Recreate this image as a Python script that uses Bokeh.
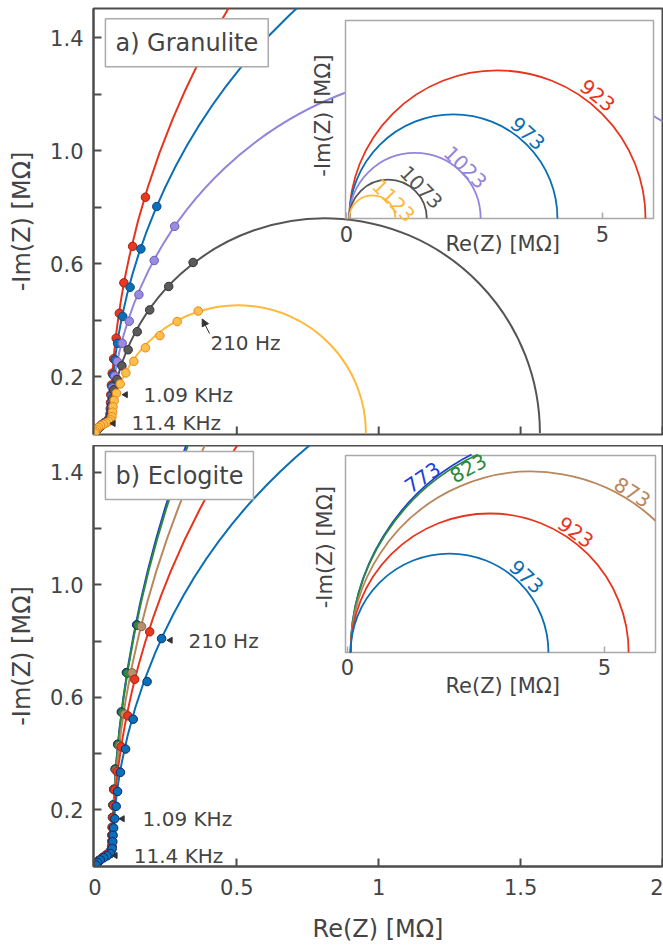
import numpy as np
from bokeh.plotting import figure
from bokeh.layouts import column
from bokeh.models import (Range1d, FixedTicker, PrintfTickFormatter,
                          CustomJSTickFormatter, Label, Arrow, NormalHead)
from bokeh.core.properties import value
from bokeh.embed import file_html
from bokeh.resources import INLINE

# ------------------------------------------------------------------ data
x_ticks = [0, 0.5, 1, 1.5, 2]
x_tick_labels = ["0", "0.5", "1", "1.5", "2"]
y_ticks = [0.2, 0.6, 1.0, 1.4]
y_minor_ticks = [0.4, 0.8, 1.2]
inset_ticks = [0, 5]
inset_tick_labels = ["0", "5"]
freq_labels = ["210 Hz", "1.09 KHz", "11.4 KHz"]

# ---- a) Granulite (temperatures in K)
temps_a = ["923", "973", "1023", "1073", "1123"]
arc_start_a = [0.054, 0.054, 0.054, 0.054, 0.054]      # MΩ
arc_radius_a = [2.893, 2.033, 1.283, 0.757, 0.4505]    # MΩ

re_a_923 = [0.178, 0.133, 0.102, 0.086, 0.075, 0.066, 0.061, 0.058, 0.056, 0.055, 0.054, 0.053, 0.050, 0.043, 0.033, 0.022, 0.012, 0.005, 0.001]
im_a_923 = [0.835, 0.661, 0.532, 0.424, 0.336, 0.263, 0.212, 0.170, 0.136, 0.108, 0.086, 0.068, 0.052, 0.044, 0.037, 0.029, 0.020, 0.011, 0.003]
re_a_973 = [0.218, 0.162, 0.124, 0.098, 0.080, 0.071, 0.064, 0.060, 0.058, 0.057, 0.056, 0.055, 0.051, 0.044, 0.034, 0.023, 0.013, 0.005, 0.001]
im_a_973 = [0.802, 0.652, 0.516, 0.413, 0.318, 0.259, 0.206, 0.165, 0.132, 0.105, 0.084, 0.066, 0.051, 0.043, 0.036, 0.028, 0.019, 0.010, 0.002]
re_a_1023 = [0.281, 0.209, 0.155, 0.121, 0.096, 0.079, 0.070, 0.062, 0.059, 0.057, 0.056, 0.055, 0.051, 0.043, 0.033, 0.022, 0.012, 0.005, 0.001]
im_a_1023 = [0.732, 0.611, 0.490, 0.396, 0.318, 0.253, 0.202, 0.160, 0.128, 0.102, 0.081, 0.064, 0.049, 0.041, 0.035, 0.027, 0.018, 0.009, 0.002]
re_a_1073 = [0.346, 0.260, 0.193, 0.149, 0.117, 0.095, 0.078, 0.066, 0.062, 0.059, 0.057, 0.056, 0.052, 0.044, 0.034, 0.023, 0.013, 0.005, 0.001]
im_a_1073 = [0.604, 0.519, 0.436, 0.359, 0.295, 0.238, 0.190, 0.153, 0.124, 0.099, 0.079, 0.062, 0.048, 0.040, 0.034, 0.026, 0.017, 0.009, 0.002]
re_a_1123 = [0.364, 0.290, 0.229, 0.178, 0.137, 0.109, 0.089, 0.076, 0.068, 0.064, 0.062, 0.060, 0.056, 0.049, 0.040, 0.030, 0.020, 0.012, 0.006, 0.002, 0.000]
im_a_1123 = [0.432, 0.395, 0.345, 0.302, 0.254, 0.213, 0.174, 0.141, 0.115, 0.093, 0.074, 0.058, 0.047, 0.041, 0.036, 0.031, 0.026, 0.020, 0.013, 0.006, 0.000]

# ---- b) Eclogite
temps_b = ["773", "823", "873", "923", "973"]
arc_start_b = [0.06, 0.06, 0.06, 0.06, 0.06]
arc_radius_b = [4.33, 4.235, 3.52, 2.705, 1.925]

re_b_773 = [0.147, 0.111, 0.093, 0.080, 0.071, 0.066, 0.063, 0.062, 0.061, 0.060, 0.060, 0.059, 0.056, 0.048, 0.037, 0.025, 0.014, 0.006, 0.001]
im_b_773 = [0.858, 0.688, 0.548, 0.433, 0.345, 0.273, 0.217, 0.173, 0.138, 0.110, 0.088, 0.070, 0.055, 0.046, 0.038, 0.029, 0.020, 0.011, 0.002]
re_b_823 = [0.151, 0.114, 0.096, 0.082, 0.072, 0.067, 0.064, 0.062, 0.061, 0.060, 0.060, 0.059, 0.056, 0.048, 0.037, 0.025, 0.014, 0.006, 0.001]
im_b_823 = [0.856, 0.686, 0.546, 0.431, 0.343, 0.272, 0.216, 0.172, 0.137, 0.109, 0.087, 0.069, 0.054, 0.045, 0.037, 0.028, 0.019, 0.010, 0.002]
re_b_873 = [0.164, 0.131, 0.105, 0.088, 0.075, 0.069, 0.065, 0.063, 0.062, 0.061, 0.060, 0.059, 0.056, 0.048, 0.037, 0.025, 0.014, 0.006, 0.001]
im_b_873 = [0.852, 0.687, 0.540, 0.428, 0.339, 0.270, 0.214, 0.171, 0.136, 0.108, 0.086, 0.068, 0.053, 0.044, 0.036, 0.028, 0.019, 0.010, 0.002]
re_b_923 = [0.193, 0.140, 0.116, 0.093, 0.078, 0.070, 0.066, 0.064, 0.063, 0.062, 0.061, 0.060, 0.057, 0.049, 0.038, 0.026, 0.015, 0.006, 0.001]
im_b_923 = [0.833, 0.664, 0.534, 0.424, 0.336, 0.271, 0.215, 0.172, 0.137, 0.109, 0.087, 0.069, 0.054, 0.045, 0.037, 0.028, 0.019, 0.010, 0.002]
re_b_973 = [0.235, 0.184, 0.135, 0.108, 0.090, 0.080, 0.075, 0.070, 0.066, 0.064, 0.063, 0.061, 0.055, 0.043, 0.031, 0.019, 0.010, 0.004]
im_b_973 = [0.809, 0.656, 0.522, 0.416, 0.333, 0.265, 0.212, 0.168, 0.135, 0.109, 0.086, 0.062, 0.044, 0.036, 0.029, 0.021, 0.012, 0.003]

# ------------------------------------------------------------------ styles
FONT = "DejaVu Sans"
TXT = "#444444"
AX = "#4d4d4d"
INSET_EDGE = "#a9a9a9"

col_a_line = ["#e8341c", "#0a6eb5", "#9384dc", "#555555", "#ffb93a"]
col_a_fill = ["#e8381e", "#0b6fb8", "#9a8ae0", "#5a5a5a", "#ffbf4a"]
col_a_edge = ["#a8200e", "#064a82", "#6a5ab8", "#303030", "#e8861a"]
col_b_line = ["#1f3fd8", "#2a8a3c", "#b8875e", "#e8341c", "#0a6eb5"]
col_b_fill = ["#2040d0", "#2e8b3e", "#b89070", "#e8381e", "#0b6fb8"]
col_b_edge = ["#102080", "#1a5a28", "#8a6040", "#a8200e", "#0a2a70"]

FIG_W = 663
BORDER_L, BORDER_R = 93, 1
FRAME_LEFT = BORDER_L                   # page px (Bokeh page has no margin)
FRAME_W = FIG_W - BORDER_L - BORDER_R
PX_PER_UNIT_Y = 282.5
Y_JOIN = 0.05                           # where the big arc meets the HF shoulder


def base_figure(height, top_border, bottom_border, yr):
    p = figure(width=FIG_W, height=height, x_range=Range1d(-0.005, 2.0),
               y_range=Range1d(*yr), min_border_left=BORDER_L,
               min_border_right=BORDER_R, min_border_top=top_border,
               min_border_bottom=bottom_border,
               output_backend="svg", toolbar_location=None)
    p.xgrid.visible = False
    p.ygrid.visible = False
    p.outline_line_color = AX
    p.outline_line_width = 2
    p.outline_line_alpha = 1
    for ax in (p.xaxis[0], p.yaxis[0]):
        ax.axis_line_color = AX
        ax.axis_line_width = 2
        ax.major_tick_line_color = AX
        ax.major_tick_line_width = 2
        ax.major_tick_in = 8
        ax.major_tick_out = 0
        ax.minor_tick_line_color = AX
        ax.minor_tick_line_width = 2
        ax.minor_tick_in = 8
        ax.minor_tick_out = 0
        ax.major_label_text_font = FONT
        ax.major_label_text_color = TXT
        ax.major_label_text_font_size = "21px"
        ax.axis_label_text_font = FONT
        ax.axis_label_text_font_size = "24px"
        ax.axis_label_text_font_style = "normal"
        ax.axis_label_text_color = TXT
    p.yaxis.ticker = FixedTicker(ticks=y_ticks, minor_ticks=y_minor_ticks)
    p.yaxis.formatter = PrintfTickFormatter(format="%.1f")
    p.yaxis.axis_label = "-Im(Z) [MΩ]"
    p.yaxis.major_label_standoff = 10
    p.yaxis.axis_label_standoff = 11
    p.xaxis.ticker = FixedTicker(ticks=x_ticks)
    p.xaxis.formatter = CustomJSTickFormatter(code="return String(tick);")
    p.xaxis.major_label_overrides = dict(zip(x_ticks, x_tick_labels))
    return p


def draw_main(p, arc_start, arc_radius, res, ims, lcol, fcol, ecol):
    for x0, R, c in zip(arc_start, arc_radius, lcol):
        hi = np.pi - np.arcsin(Y_JOIN / R)
        p.arc(x=[x0 + R], y=[0.0], radius=R, start_angle=0.0, end_angle=hi,
              direction="anticlock", line_color=c, line_width=2)
    for xs, ys, c in zip(res, ims, lcol):
        xs = np.asarray(xs)
        ys = np.asarray(ys)
        m = ys <= 0.062
        p.line(xs[m], ys[m], line_color=c, line_width=2)
    for xs, ys, f, e in zip(res, ims, fcol, ecol):
        p.scatter(xs, ys, size=8.5, marker="circle", fill_color=f,
                  line_color=e, line_width=1)


def draw_inset(p, g, arc_start, arc_radius, temps, lcol, label_pos, txt_pos,
               frame_top, frame_bottom):
    s, ox, oy = g["s"], g["ox"], g["oy"]
    p.extra_x_ranges = {"ix": Range1d((FRAME_LEFT - ox) / s,
                                      (FRAME_LEFT + FRAME_W - ox) / s)}
    p.extra_y_ranges = {"iy": Range1d(-(frame_bottom - oy) / s,
                                      (oy - frame_top) / s)}
    bl = (g["l"] - ox) / s
    br = (g["r"] - ox) / s
    bt = (oy - g["t"]) / s
    kw = dict(x_range_name="ix", y_range_name="iy")
    p.quad(left=[bl], right=[br], bottom=[0.0], top=[bt], fill_color="white",
           line_color=INSET_EDGE, line_width=1.5, **kw)
    tick_len = 6.0 / s
    p.segment(x0=inset_ticks, y0=[0.0] * len(inset_ticks), x1=inset_ticks,
              y1=[tick_len] * len(inset_ticks), line_color=INSET_EDGE,
              line_width=1.5, **kw)
    for x0, R, c in zip(arc_start, arc_radius, lcol):
        xc = x0 + R
        if R > bt:
            # only the rising left flank stays inside the box
            lo = np.pi - np.arcsin(bt / R)
        else:
            lo = float(np.arccos((br - xc) / R)) if xc + R > br else 0.0
        p.arc(x=[xc], y=[0.0], radius=R, start_angle=lo, end_angle=np.pi,
              direction="anticlock", line_color=c, line_width=1.8, **kw)
    p.text(x=[lp[0] for lp in label_pos], y=[lp[1] for lp in label_pos],
           text=temps, angle=[lp[2] for lp in label_pos], text_color=lcol,
           text_font=value(FONT), text_font_size=value("20px"),
           text_align="center", text_baseline="middle", **kw)
    p.text(x=inset_ticks, y=[txt_pos["tick_y"]] * len(inset_ticks),
           text=inset_tick_labels, text_color=TXT, text_font=value(FONT),
           text_font_size=value("21px"), text_align="center",
           text_baseline="middle", **kw)
    p.text(x=[txt_pos["xl"][0]], y=[txt_pos["xl"][1]], text=["Re(Z) [MΩ]"],
           text_color=TXT, text_font=value(FONT), text_font_size=value("21px"),
           text_align="center", text_baseline="middle", **kw)
    p.text(x=[txt_pos["yl"][0]], y=[txt_pos["yl"][1]], text=["-Im(Z) [MΩ]"],
           angle=[np.pi / 2], text_color=TXT, text_font=value(FONT),
           text_font_size=value("21px"), text_align="center",
           text_baseline="middle", **kw)


def draw_freqs(p, text_pos, head_pos, arrow=None):
    p.text(x=[t[0] for t in text_pos], y=[t[1] for t in text_pos],
           text=freq_labels, text_color=TXT, text_font=value(FONT),
           text_font_size=value("20px"), text_align="left",
           text_baseline="middle")
    if head_pos:
        p.scatter(x=[h[0] for h in head_pos], y=[h[1] for h in head_pos],
                  marker="triangle", angle=np.pi / 2, size=6,
                  fill_color="#333333", line_color="#333333")
    if arrow:
        p.add_layout(Arrow(end=NormalHead(size=7, fill_color="#333333",
                                          line_color="#333333", line_width=1),
                           x_start=arrow[0], y_start=arrow[1],
                           x_end=arrow[2], y_end=arrow[3],
                           line_color="#333333", line_width=1))


def panel_label(p, y, text):
    p.add_layout(Label(x=0.037, y=y, text=text, text_font=FONT,
                       text_font_size="24px", text_color=TXT,
                       text_baseline="middle", text_align="left",
                       border_line_color="#aaaaaa", border_line_width=1.5,
                       background_fill_color="white", padding=10))


# ------------------------------------------------------------------ panel a
pa = base_figure(height=445, top_border=8, bottom_border=11,
                 yr=(-0.005, 1.503))
pa.xaxis.visible = False
# inward bottom ticks of the upper panel (no labels: the x axis is shared)
pa.segment(x0=x_ticks, y0=[-0.005] * len(x_ticks), x1=x_ticks,
           y1=[-0.005 + 8 / PX_PER_UNIT_Y] * len(x_ticks),
           line_color=AX, line_width=2)
draw_main(pa, arc_start_a, arc_radius_a,
          [re_a_923, re_a_973, re_a_1023, re_a_1073, re_a_1123],
          [im_a_923, im_a_973, im_a_1023, im_a_1073, im_a_1123],
          col_a_line, col_a_fill, col_a_edge)
draw_inset(pa, dict(l=345, r=653, t=20, ox=346, oy=218, s=51.2),
           arc_start_a, arc_radius_a, temps_a, col_a_line,
           [(4.90, 2.40, -0.68), (3.54, 1.66, -0.73), (2.32, 1.00, -0.78),
            (1.46, 0.61, -0.80), (0.92, 0.35, -0.80)],
           dict(tick_y=-0.31, xl=(3.05, -0.49), yl=(-0.45, 2.01)),
           frame_top=8, frame_bottom=434)
draw_freqs(pa, [(0.407, 0.320), (0.171, 0.136), (0.129, 0.037)],
           [(0.108, 0.136), (0.065, 0.034)],
           arrow=(0.404, 0.352, 0.378, 0.404))
panel_label(pa, 1.382, "a) Granulite")

# ------------------------------------------------------------------ panel b
pb = base_figure(height=500, top_border=0, bottom_border=77,
                 yr=(-0.002, 1.496))
pb.xaxis.axis_label = "Re(Z) [MΩ]"
pb.xaxis.major_label_standoff = 12
pb.xaxis.axis_label_standoff = 17
draw_main(pb, arc_start_b, arc_radius_b,
          [re_b_773, re_b_823, re_b_873, re_b_923, re_b_973],
          [im_b_773, im_b_823, im_b_873, im_b_923, im_b_973],
          col_b_line, col_b_fill, col_b_edge)
draw_inset(pb, dict(l=345, r=655, t=455, ox=347, oy=653, s=51.4),
           arc_start_b, arc_radius_b, temps_b, col_b_line,
           [(1.46, 3.42, 0.60), (2.35, 3.60, 0.50), (5.54, 3.13, -0.56),
            (4.44, 2.35, -0.62), (3.48, 1.48, -0.76)],
           dict(tick_y=-0.29, xl=(3.02, -0.66), yl=(-0.43, 2.06)),
           frame_top=445, frame_bottom=868)
draw_freqs(pb, [(0.33, 0.80), (0.168, 0.168), (0.137, 0.037)],
           [(0.266, 0.803), (0.097, 0.168), (0.072, 0.037)])
panel_label(pb, 1.389, "b) Eclogite")

layout = column(pa, pb, spacing=0)
open("out.html", "w", encoding="utf-8").write(
    file_html(layout, INLINE, title="Nyquist plots"))
